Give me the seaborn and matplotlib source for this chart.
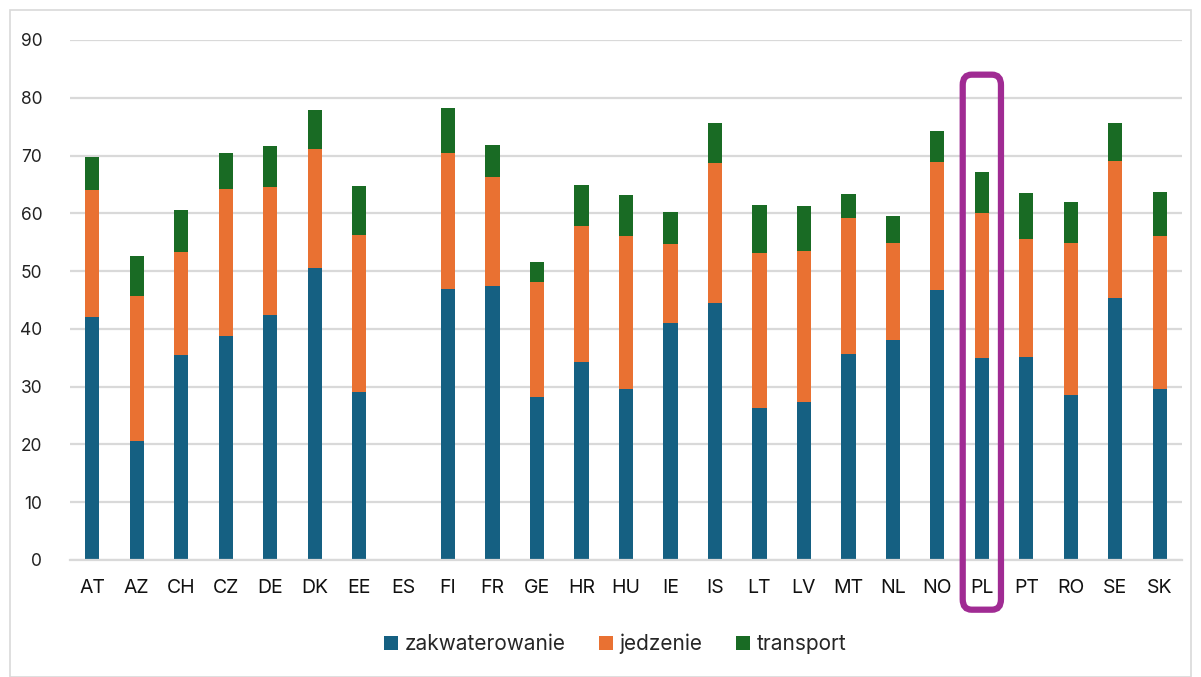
import numpy as np
import pandas as pd
import matplotlib
matplotlib.use("Agg")
import matplotlib.pyplot as plt
from matplotlib.patches import FancyBboxPatch, Rectangle
import seaborn as sns

countries = ["AT", "AZ", "CH", "CZ", "DE", "DK", "EE", "ES", "FI", "FR", "GE", "HR", "HU",
             "IE", "IS", "LT", "LV", "MT", "NL", "NO", "PL", "PT", "RO", "SE", "SK"]
zakwaterowanie = [42.0, 20.6, 35.5, 38.8, 42.4, 50.5, 29.1, 0.0, 46.9, 47.4, 28.2, 34.3, 29.6,
                  41.0, 44.5, 26.3, 27.3, 35.6, 38.1, 46.7, 34.9, 35.1, 28.5, 45.3, 29.6]
jedzenie = [22.0, 25.1, 17.8, 25.4, 22.1, 20.6, 27.1, 0.0, 23.5, 18.9, 19.9, 23.5, 26.5,
            13.7, 24.2, 26.8, 26.2, 23.6, 16.7, 22.2, 25.1, 20.4, 26.3, 23.7, 26.5]
transport = [5.7, 6.9, 7.3, 6.2, 7.1, 6.8, 8.5, 0.0, 7.8, 5.5, 3.5, 7.1, 7.0,
             5.5, 6.9, 8.3, 7.7, 4.1, 4.7, 5.3, 7.1, 8.0, 7.1, 6.6, 7.6]
series_names = ["zakwaterowanie", "jedzenie", "transport"]
highlight = "PL"
y_ticks = [0, 10, 20, 30, 40, 50, 60, 70, 80, 90]

colors = {"zakwaterowanie": "#156082", "jedzenie": "#E97132", "transport": "#196B24"}

df = pd.DataFrame({"kraj": countries, "zakwaterowanie": zakwaterowanie,
                   "jedzenie": jedzenie, "transport": transport})
df["c1"] = df["zakwaterowanie"]
df["c2"] = df["c1"] + df["jedzenie"]
df["c3"] = df["c2"] + df["transport"]

sns.set_theme(style="white")
plt.rcParams["font.family"] = ["Inter", "DejaVu Sans"]

fig = plt.figure(figsize=(12.01, 6.77), dpi=100)
ax = fig.add_axes([70 / 1201, 1 - 560 / 677, (1182 - 70) / 1201, (560 - 40) / 677])

for col, name in [("c3", "transport"), ("c2", "jedzenie"), ("c1", "zakwaterowanie")]:
    sns.barplot(data=df, x="kraj", y=col, color=colors[name], width=0.32,
                saturation=1, ax=ax, label=name, edgecolor="none", linewidth=0)

ax.set_ylim(0, 90)
ax.set_xlim(-0.5, len(countries) - 0.5)
ax.set_yticks(y_ticks)
ax.set_yticklabels([str(t) for t in y_ticks], fontsize=12.5, color="#222222")
ax.tick_params(axis="x", labelsize=14, colors="#111111", pad=14, length=0)
ax.tick_params(axis="y", pad=20, length=0)
ax.set_xlabel("")
ax.set_ylabel("")
ax.yaxis.grid(True, color="#D9D9D9", linewidth=1.6)
ax.set_axisbelow(True)
for s in ["top", "right", "left"]:
    ax.spines[s].set_visible(False)
ax.spines["bottom"].set_color("#D9D9D9")
ax.spines["bottom"].set_linewidth(1.6)
for lbl in ax.get_xticklabels():
    lbl.set_color("#111111")

# highlight box around PL
i = countries.index(highlight)
box = FancyBboxPatch((i - 0.43, -8.6), 0.86, 92.6,
                     boxstyle="round,pad=0,rounding_size=0.2", mutation_aspect=9,
                     fill=False, edgecolor="#A02B93", linewidth=4.5, clip_on=False, zorder=5)
ax.add_patch(box)

# legend
handles, labels = ax.get_legend_handles_labels()
order = [labels.index(n) for n in series_names]
leg = fig.legend([handles[k] for k in order], [labels[k] for k in order],
                 loc="center", bbox_to_anchor=(615 / 1201, 1 - 644 / 677), ncol=3, frameon=False,
                 fontsize=15, handlelength=0.7, handleheight=0.7, handletextpad=0.3,
                 columnspacing=1.6)
if ax.get_legend() is not None:
    ax.get_legend().remove()

# chart border
fig.patches.append(Rectangle((10 / 1201, 0), 1 - 20 / 1201, 1 - 10 / 677,
                             transform=fig.transFigure, fill=False,
                             edgecolor="#D9D9D9", linewidth=1.2))

fig.savefig("out.png", dpi=100)
